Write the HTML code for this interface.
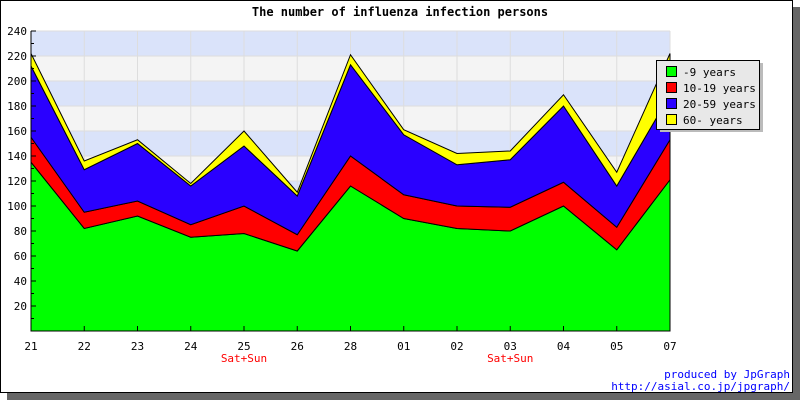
<!DOCTYPE html>
<html><head><meta charset="utf-8"><style>
body{margin:0;background:#fff}
svg text{font-family:"DejaVu Sans Mono","Liberation Mono",monospace}
</style></head><body>
<svg id="c" width="800" height="400" xmlns="http://www.w3.org/2000/svg">
<rect x="7" y="7" width="793" height="393" fill="#666"/>
<rect x="0.5" y="0.5" width="792" height="392" fill="#fff" stroke="#000"/>
<text x="400" y="16" text-anchor="middle" font-size="12" font-weight="bold">The number of influenza infection persons</text>
<g id="bg"></g><g id="grid"></g><g id="areas"></g><g id="axes"></g>
<g>
<rect x="260" y="63" width="103" height="69" fill="#bbb" transform="translate(400,0)"/>
<rect x="656.5" y="60.5" width="103" height="69" fill="#e8e8e8" stroke="#000"/>
<g id="leg"></g>
</g>
<text x="790" y="378" text-anchor="end" font-size="11" fill="#0000ff">produced by JpGraph</text>
<text x="790" y="390" text-anchor="end" font-size="11" fill="#0000ff">http://asial.co.jp/jpgraph/</text>
</svg>
<script>
const categories=["21","22","23","24","25","26","28","01","02","03","04","05","07"];
const weekend=["","","","","Sat+Sun","","","","","Sat+Sun","","",""];
const seriesNames=["-9 years","10-19 years","20-59 years","60- years"];
const s0=[135,82,92,75,78,64,116,90,82,80,100,65,121];
const s1=[20,13,12,10,22,13,24,19,18,19,19,18,32];
const s2=[57,34,46,31,48,31,73,48,33,38,61,33,36];
const s3=[10,7,3,2,12,3,8,4,9,7,9,11,33];
const yTicks=[20,40,60,80,100,120,140,160,180,200,220,240];
const colors=["#00ff00","#ff0000","#2a00ff","#ffff00"];
const NS="http://www.w3.org/2000/svg";
const X0=31,X1=670,Y0=331,YT=31,YMAX=240;
const xs=i=>X0+(X1-X0)*i/(categories.length-1);
const ys=v=>Y0-(Y0-YT)*v/YMAX;
function mk(p,t,a){const e=document.createElementNS(NS,t);for(const k in a)e.setAttribute(k,a[k]);document.getElementById(p).appendChild(e);return e;}
// bands
for(let v=0;v<YMAX;v+=20){
 const r=mk("bg","rect",{x:X0,y:ys(v+20),width:X1-X0,height:ys(v)-ys(v+20),fill:(v/20)%2?"#dae3fa":"#f4f4f4"});
 
 
}
yTicks.forEach(v=>{const l=mk("grid","line",{x1:X0,x2:X1,y1:ys(v),y2:ys(v),stroke:"#ddd"});
 
 });
categories.forEach((c,i)=>{const l=mk("grid","line",{x1:xs(i),x2:xs(i),y1:YT,y2:Y0,stroke:"#ddd"});
 
 });
// areas
const series=[s0,s1,s2,s3];let base=categories.map(()=>0);
series.forEach((s,k)=>{
 const top=base.map((b,i)=>b+s[i]);
 let d="M"+top.map((v,i)=>xs(i)+","+ys(v)).join(" L");
 for(let i=categories.length-1;i>=0;i--)d+=" L"+xs(i)+","+ys(base[i]);
 d+="Z";
 const p=mk("areas","path",{d:d,fill:colors[k],stroke:"#000","stroke-width":1});
 
 
 base=top;
});
// axes
let a=mk("axes","line",{x1:X0,x2:X0,y1:YT,y2:Y0,stroke:"#000"});


a=mk("axes","line",{x1:X0,x2:X1,y1:Y0,y2:Y0,stroke:"#000"});


for(let v=10;v<=YMAX;v+=10){mk("axes","line",{x1:X0,x2:X0+(v%20?3:5),y1:ys(v),y2:ys(v),stroke:"#000"});}
yTicks.forEach(v=>{const t=mk("axes","text",{x:27,y:ys(v)+4,"text-anchor":"end","font-size":11});t.textContent=v;
 
 });
categories.forEach((c,i)=>{
 mk("axes","line",{x1:xs(i),x2:xs(i),y1:Y0,y2:Y0-5,stroke:"#000"});
 const t=mk("axes","text",{x:xs(i),y:350,"text-anchor":"middle","font-size":11});t.textContent=c;
 
 
 if(weekend[i]){const w=mk("axes","text",{x:xs(i),y:362,"text-anchor":"middle","font-size":11,fill:"#ff0000"});w.textContent=weekend[i];
 
 }
});
seriesNames.forEach((n,k)=>{
 const y=66+k*16;
 mk("leg","rect",{x:666.5,y:y+0.5,width:10,height:10,fill:colors[k],stroke:"#000"});
 const t=mk("leg","text",{x:683,y:y+10,"font-size":11});t.textContent=n;
 
 
});
</script>
</body></html>
